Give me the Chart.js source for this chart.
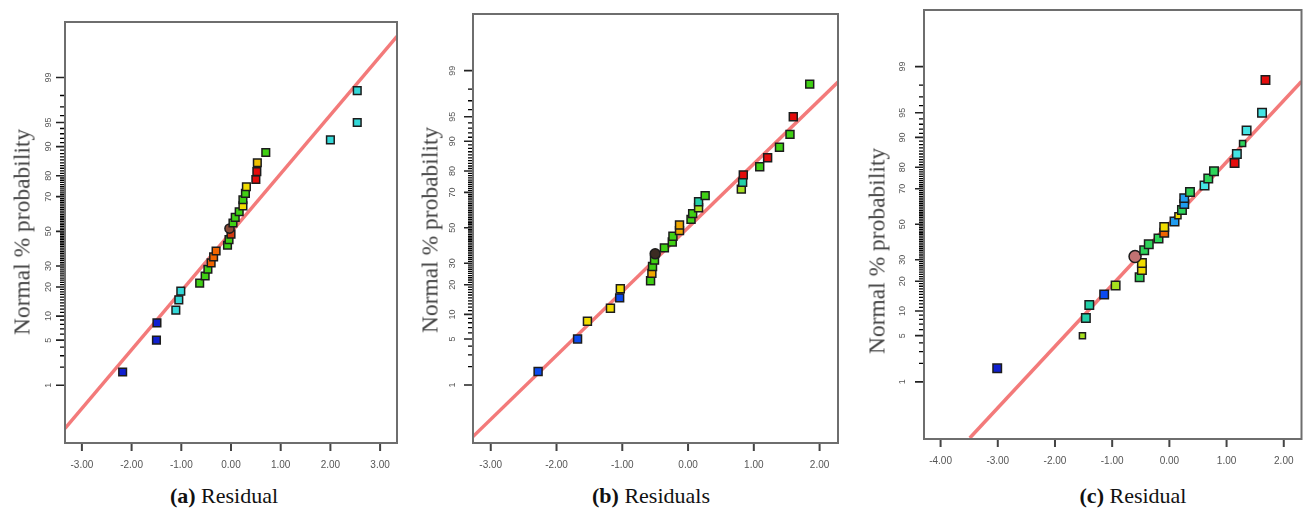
<!DOCTYPE html>
<html lang="en">
<head>
<meta charset="UTF-8">
<title>Normal probability plots of residuals</title>
<script src="https://cdn.jsdelivr.net/npm/chart.js@4"></script>
<style>
    body { margin: 0; background: #fff; }
    #figure { position: relative; width: 1309px; height: 509px; overflow: hidden; background: #fff; }
    .panel { position: absolute; top: 0; }
    .ytitle {
        position: absolute;
        font-family: "Liberation Serif", serif;
        font-size: 23.5px;
        color: #444;
        white-space: nowrap;
        transform: translate(-50%, -50%) rotate(-90deg);
    }
    .caption {
        position: absolute;
        top: 483px;
        font-family: "Liberation Serif", serif;
        font-size: 22px;
        line-height: 26px;
        color: #111;
        white-space: nowrap;
        transform: translateX(-50%);
    }
</style>
</head>
<body>
<div id="figure">
    <div class="panel" style="left:0"><canvas id="plotA" width="420" height="480"></canvas></div>
    <div class="panel" style="left:420px"><canvas id="plotB" width="440" height="480"></canvas></div>
    <div class="panel" style="left:860px"><canvas id="plotC" width="449" height="480"></canvas></div>

    <div class="ytitle" style="left:22px;top:232px">Normal % probability</div>
    <div class="ytitle" style="left:430px;top:230px">Normal % probability</div>
    <div class="ytitle" style="left:877px;top:251px">Normal % probability</div>

    <div class="caption" style="left:224px"><b>(a)</b> Residual</div>
    <div class="caption" style="left:651px"><b>(b)</b> Residuals</div>
    <div class="caption" style="left:1133px"><b>(c)</b> Residual</div>
</div>

<script>
    // normal % probability of each ranked residual (30 runs per plot)
    const normalPct = [1.67, 5, 8.33, 11.67, 15, 18.33, 21.67, 25, 28.33, 31.67,
                       35, 38.33, 41.67, 45, 48.33, 51.67, 55, 58.33, 61.67, 65,
                       68.33, 71.67, 75, 78.33, 81.67, 85, 88.33, 91.67, 95, 98.33];

    // residuals, same rank order as normalPct
    const residA = [-2.18, -1.50, -1.49, -1.11, -1.05, -1.01, -0.63, -0.52, -0.465, -0.40,
                    -0.35, -0.30, -0.07, -0.04, 0.00, -0.03, 0.04, 0.085, 0.165, 0.24,
                    0.24, 0.29, 0.31, 0.50, 0.52, 0.53, 0.70, 2.00, 2.54, 2.54];
    const residB = [-2.28, -1.68, -1.53, -1.18, -1.04, -1.03, -0.57, -0.55, -0.54, -0.51,
                    -0.50, -0.36, -0.24, -0.23, -0.13, -0.13, 0.045, 0.07, 0.16, 0.16,
                    0.26, 0.81, 0.83, 0.84, 1.09, 1.21, 1.39, 1.55, 1.60, 1.85];
    const residC = [-3.01, -1.52, -1.46, -1.40, -1.14, -0.94, -0.52, -0.48, -0.48, -0.60,
                    -0.44, -0.36, -0.19, -0.09, -0.09, 0.09, 0.15, 0.22, 0.26, 0.26,
                    0.36, 0.615, 0.68, 0.78, 1.14, 1.18, 1.28, 1.35, 1.62, 1.68];

    // reference line end points (residual, normal %)
    const fitAx = [-3.34, 3.34], fitAp = [0.144, 99.84];
    const fitBx = [-3.27, 2.28], fitBp = [0.10, 98.45];
    const fitCx = [-3.49, 2.31], fitCp = [0.08, 98.24];

    // axis ticks
    const xTicksA = [-3, -2, -1, 0, 1, 2, 3];
    const xTicksB = [-3, -2, -1, 0, 1, 2];
    const xTicksC = [-4, -3, -2, -1, 0, 1, 2];
    const yTickPct = [1, 5, 10, 20, 30, 50, 70, 80, 90, 95, 99];
    const minorPct = Array.from({ length: 99 }, (_, i) => i + 1).filter(p => !yTickPct.includes(p));

    // point colours (run colouring from the software)
    const blue = '#1020d0', blueB = '#0a4af0', cyan = '#33d8d8', cyanC = '#44e4e4',
          green = '#40d014', greenC = '#2ed45a', lime = '#a6e01e', yellow = '#f0dc00',
          amber = '#f0a800', orange = '#f06400', red = '#e40c0c', teal = '#22d0a8',
          sky = '#1f9cf0', brown = '#8c4a36', dark = '#3b2b22', rose = '#c27272';

    const colorsA = [blue, blue, blue, cyan, cyan, cyan, green, green, green, orange,
                     orange, orange, green, green, '#d03a10', brown, green, green, green, yellow,
                     green, green, yellow, red, red, '#f0c000', green, cyan, cyan, cyan];
    const colorsB = [blueB, blueB, yellow, yellow, blueB, yellow, green, amber, green, green,
                     dark, green, green, green, amber, amber, green, green, lime, teal,
                     green, lime, teal, red, green, red, green, green, red, green];
    const colorsC = [blue, lime, teal, teal, blueB, lime, greenC, yellow, yellow, rose,
                     greenC, greenC, greenC, orange, yellow, sky, yellow, greenC, sky, sky,
                     greenC, cyanC, greenC, greenC, red, cyanC, greenC, cyanC, cyanC, red];

    const sizesA = residA.map((_, i) => i === 15 ? 4.6 : 5.4);
    const sizesB = residB.map((_, i) => i === 10 ? 5 : 5.6);
    const sizesC = residC.map((_, i) => i === 9 ? 6 : ([1, 16, 26].includes(i) ? 4.3 : 6));

    // inverse of the standard normal CDF (Acklam)
    function probit(p) {
        const a = [-3.969683028665376e+01, 2.209460984245205e+02, -2.759285104469687e+02,
                   1.383577518672690e+02, -3.066479806614716e+01, 2.506628277459239e+00];
        const b = [-5.447609879822406e+01, 1.615858368580409e+02, -1.556989798598866e+02,
                   6.680131188771972e+01, -1.328068155288572e+01];
        const c = [-7.784894002430293e-03, -3.223964580411365e-01, -2.400758277161838e+00,
                   -2.549732539343734e+00, 4.374664141464968e+00, 2.938163982698783e+00];
        const d = [7.784695709041462e-03, 3.224671290700398e-01, 2.445134137142996e+00,
                   3.754408661907416e+00];
        const lo = 0.02425;
        if (p < lo) {
            const q = Math.sqrt(-2 * Math.log(p));
            return (((((c[0]*q+c[1])*q+c[2])*q+c[3])*q+c[4])*q+c[5]) / ((((d[0]*q+d[1])*q+d[2])*q+d[3])*q+1);
        }
        if (p > 1 - lo) {
            const q = Math.sqrt(-2 * Math.log(1 - p));
            return -(((((c[0]*q+c[1])*q+c[2])*q+c[3])*q+c[4])*q+c[5]) / ((((d[0]*q+d[1])*q+d[2])*q+d[3])*q+1);
        }
        const q = p - 0.5, r = q * q;
        return (((((a[0]*r+a[1])*r+a[2])*r+a[3])*r+a[4])*r+a[5])*q / (((((b[0]*r+b[1])*r+b[2])*r+b[3])*r+b[4])*r+1);
    }

    // normal probability axis: values in %, spaced by their normal quantile
    class ProbitScale extends Chart.LinearScale {
        static id = 'probit';
        determineDataLimits() {
            this.min = 0;
            this.max = 100;
        }
        buildTicks() {
            return yTickPct.map(v => ({ value: v }));
        }
        configure() {
            super.configure();
            this._zLo = this.options.sigmaMin;
            this._zHi = this.options.sigmaMax;
        }
        getPixelForValue(v) {
            const z = probit(v / 100);
            return this.getPixelForDecimal((z - this._zLo) / (this._zHi - this._zLo));
        }
    }
    Chart.register(ProbitScale);

    // tick marks, rotated probability labels and the plot frame
    const probFrame = {
        id: 'probFrame',
        afterDraw(chart, args, opts) {
            const { ctx, chartArea: a } = chart;
            const x = chart.scales.x, y = chart.scales.y;
            ctx.save();
            ctx.lineCap = 'butt';

            // minor probability ticks
            ctx.strokeStyle = '#000';
            ctx.lineWidth = 1.3;
            ctx.beginPath();
            minorPct.forEach(p => {
                const py = y.getPixelForValue(p);
                ctx.moveTo(a.left - 5, py);
                ctx.lineTo(a.left, py);
            });
            ctx.stroke();

            // major probability ticks
            ctx.strokeStyle = '#222';
            ctx.lineWidth = 1.6;
            ctx.beginPath();
            yTickPct.forEach(p => {
                const py = y.getPixelForValue(p);
                ctx.moveTo(a.left - 9, py);
                ctx.lineTo(a.left, py);
            });
            ctx.stroke();

            // residual ticks hanging under the frame
            ctx.strokeStyle = '#444';
            ctx.lineWidth = 2;
            ctx.beginPath();
            opts.xTicks.forEach(v => {
                const px = x.getPixelForValue(v);
                ctx.moveTo(px, a.bottom);
                ctx.lineTo(px, a.bottom + 8);
            });
            ctx.stroke();

            ctx.fillStyle = '#555';
            ctx.font = '9px "Liberation Sans", Arial, sans-serif';
            ctx.textAlign = 'center';
            ctx.textBaseline = 'middle';
            yTickPct.forEach(p => {
                ctx.save();
                ctx.translate(a.left - opts.labelOffset, y.getPixelForValue(p));
                ctx.rotate(-Math.PI / 2);
                ctx.fillText(String(p), 0, 0);
                ctx.restore();
            });

            ctx.strokeStyle = '#6e6e6e';
            ctx.lineWidth = 2;
            ctx.strokeRect(a.left, a.top, a.right - a.left, a.bottom - a.top);
            ctx.restore();
        }
    };

    function makePlot(id, p) {
        return new Chart(document.getElementById(id), {
            type: 'scatter',
            data: {
                datasets: [
                    {
                        data: p.resid.map((r, i) => ({ x: r, y: normalPct[i] })),
                        pointStyle: p.resid.map((_, i) => i === p.circle ? 'circle' : 'rect'),
                        pointRadius: p.sizes,
                        pointBackgroundColor: p.colors,
                        pointBorderColor: '#1c1c1c',
                        pointBorderWidth: 1.5,
                        order: 0,
                        clip: false
                    },
                    {
                        data: p.fitX.map((x, i) => ({ x: x, y: p.fitP[i] })),
                        showLine: true,
                        borderColor: '#f37a7a',
                        borderWidth: 3.5,
                        pointRadius: 0,
                        order: 1,
                        clip: 0
                    }
                ]
            },
            options: {
                responsive: false,
                animation: false,
                events: [],
                layout: { padding: p.padding },
                plugins: {
                    legend: { display: false },
                    tooltip: { enabled: false },
                    probFrame: { labelOffset: p.labelOffset, xTicks: p.xTicks }
                },
                scales: {
                    x: {
                        type: 'linear',
                        min: p.xMin,
                        max: p.xMax,
                        bounds: 'data',
                        afterBuildTicks: s => { s.ticks = p.xTicks.map(v => ({ value: v })); },
                        afterFit: s => { s.height = p.xHeight; },
                        grid: { display: false, drawTicks: true, tickLength: 8 },
                        border: { display: false },
                        ticks: {
                            padding: 8,
                            color: '#555',
                            font: { family: 'Liberation Sans', size: 10 },
                            maxRotation: 0,
                            autoSkip: false,
                            callback: v => v.toFixed(2)
                        }
                    },
                    y: {
                        type: 'probit',
                        sigmaMin: p.sigmaMin,
                        sigmaMax: p.sigmaMax,
                        afterFit: s => { s.width = p.yWidth; },
                        grid: { display: false },
                        border: { display: false },
                        ticks: { display: false }
                    }
                }
            },
            plugins: [probFrame]
        });
    }

    makePlot('plotA', {
        resid: residA, colors: colorsA, sizes: sizesA, circle: 15,
        fitX: fitAx, fitP: fitAp, xTicks: xTicksA, xMin: -3.34, xMax: 3.34,
        sigmaMin: -3.20, sigmaMax: 3.165,
        yWidth: 65, xHeight: 37, labelOffset: 16,
        padding: { top: 22, right: 23, left: 0, bottom: 0 }
    });
    makePlot('plotB', {
        resid: residB, colors: colorsB, sizes: sizesB, circle: 10,
        fitX: fitBx, fitP: fitBp, xTicks: xTicksB, xMin: -3.27, xMax: 2.28,
        sigmaMin: -3.185, sigmaMax: 3.165,
        yWidth: 53, xHeight: 37, labelOffset: 20,
        padding: { top: 14, right: 22, left: 0, bottom: 0 }
    });
    makePlot('plotC', {
        resid: residC, colors: colorsC, sizes: sizesC, circle: 9,
        fitX: fitCx, fitP: fitCp, xTicks: xTicksC, xMin: -4.29, xMax: 2.31,
        sigmaMin: -3.17, sigmaMax: 3.162,
        yWidth: 64, xHeight: 41, labelOffset: 21,
        padding: { top: 10, right: 2, left: 0, bottom: 0 }
    });
</script>
</body>
</html>
